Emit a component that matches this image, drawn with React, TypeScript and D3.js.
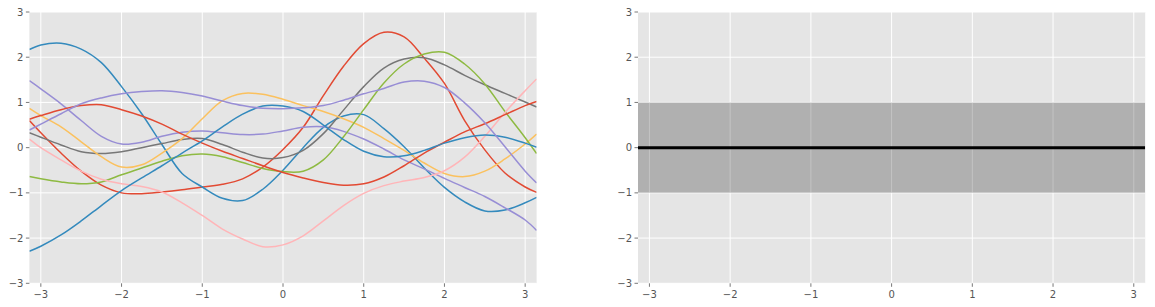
import React from 'react';
import * as d3 from 'd3';

// sample x positions (domain is [-pi, pi])
const xs = [-Math.PI, -3, -2.75, -2.5, -2.25, -2, -1.75, -1.5, -1.25, -1, -0.75, -0.5, -0.25, 0, 0.25, 0.5, 0.75, 1, 1.25, 1.5, 1.75, 2, 2.25, 2.5, 2.75, 3, Math.PI];

// ten prior samples
const redPeak = [0.6, 0.33, -0.12, -0.52, -0.83, -1.0, -1.02, -0.98, -0.93, -0.87, -0.81, -0.69, -0.43, -0.04, 0.45, 1.15, 1.8, 2.3, 2.55, 2.45, 1.98, 1.42, 0.6, -0.05, -0.56, -0.87, -0.99];
const blueHigh = [2.17, 2.27, 2.31, 2.18, 1.88, 1.35, 0.75, 0.07, -0.57, -0.87, -1.12, -1.17, -0.92, -0.5, 0.0, 0.45, 0.7, 0.73, 0.42, 0.02, -0.45, -0.88, -1.2, -1.4, -1.38, -1.22, -1.1];
const purpleLow = [1.48, 1.3, 0.97, 0.6, 0.25, 0.08, 0.12, 0.25, 0.34, 0.37, 0.33, 0.29, 0.3, 0.37, 0.45, 0.46, 0.36, 0.19, -0.03, -0.27, -0.47, -0.68, -0.88, -1.08, -1.33, -1.6, -1.83];
const gray = [0.33, 0.23, 0.06, -0.09, -0.13, -0.09, 0.0, 0.09, 0.18, 0.2, 0.07, -0.1, -0.23, -0.22, -0.06, 0.31, 0.83, 1.35, 1.76, 1.96, 1.99, 1.83, 1.6, 1.39, 1.2, 1.01, 0.9];
const yellow = [0.87, 0.71, 0.46, 0.13, -0.2, -0.43, -0.38, -0.12, 0.2, 0.64, 1.04, 1.2, 1.18, 1.07, 0.93, 0.8, 0.64, 0.45, 0.2, -0.06, -0.34, -0.57, -0.64, -0.52, -0.25, 0.08, 0.3];
const green = [-0.64, -0.69, -0.76, -0.8, -0.76, -0.6, -0.45, -0.3, -0.18, -0.14, -0.2, -0.33, -0.46, -0.53, -0.52, -0.27, 0.24, 0.84, 1.43, 1.85, 2.07, 2.11, 1.85, 1.41, 0.8, 0.22, -0.13];
const pink = [0.19, 0.0, -0.27, -0.52, -0.7, -0.8, -0.86, -0.98, -1.22, -1.5, -1.8, -2.02, -2.19, -2.15, -1.95, -1.62, -1.28, -1.01, -0.84, -0.74, -0.66, -0.51, -0.21, 0.25, 0.78, 1.26, 1.52];
const redLow = [0.63, 0.71, 0.84, 0.93, 0.95, 0.84, 0.7, 0.52, 0.3, 0.1, -0.08, -0.24, -0.4, -0.55, -0.67, -0.77, -0.83, -0.8, -0.65, -0.4, -0.12, 0.12, 0.35, 0.53, 0.73, 0.93, 1.02];
const blueLow = [-2.29, -2.18, -1.93, -1.62, -1.28, -0.95, -0.67, -0.4, -0.12, 0.15, 0.46, 0.74, 0.92, 0.92, 0.8, 0.5, 0.18, -0.08, -0.2, -0.18, -0.06, 0.1, 0.22, 0.28, 0.23, 0.1, 0.01];
const purpleHigh = [0.39, 0.52, 0.75, 0.97, 1.1, 1.19, 1.24, 1.26, 1.22, 1.14, 1.03, 0.93, 0.87, 0.86, 0.88, 0.93, 1.05, 1.19, 1.31, 1.45, 1.47, 1.33, 0.99, 0.55, 0.02, -0.52, -0.78];

const samples = [redPeak, blueHigh, purpleLow, gray, yellow, green, pink, redLow, blueLow, purpleHigh];
const colors = ['#E24A33', '#348ABD', '#988ED5', '#777777', '#FBC15E', '#8EBA42', '#FFB5B8', '#E24A33', '#348ABD', '#988ED5'];

// prior mean and +/- one std
const meanValues = [0, 0];
const meanXs = [-Math.PI, Math.PI];
const stdValues = [1, 1];

const xTicks = [-3, -2, -1, 0, 1, 2, 3];
const yTicks = [-3, -2, -1, 0, 1, 2, 3];

const W = 507.2;
const H = 271.3;
const TOP = 12;
const LEFTS = [29.4, 638];

const fmt = (v: number) => (v < 0 ? '\u2212' + Math.abs(v) : String(v));

function Axes({ left, id, children }: { left: number; id: string; children: React.ReactNode }) {
  const x = d3.scaleLinear().domain([-Math.PI, Math.PI]).range([0, W]);
  const y = d3.scaleLinear().domain([-3, 3]).range([H, 0]);
  return (
    <g transform={`translate(${left},${TOP})`}>
      <defs>
        <clipPath id={id}>
          <rect x={0} y={0} width={W} height={H} />
        </clipPath>
      </defs>
      <rect x={0} y={0} width={W} height={H} fill="#E5E5E5" />
      {xTicks.map((t) => (
        <line key={'gx' + t} x1={x(t)} x2={x(t)} y1={0} y2={H} stroke="#FFFFFF" strokeWidth={1} />
      ))}
      {yTicks.map((t) => (
        <line key={'gy' + t} x1={0} x2={W} y1={y(t)} y2={y(t)} stroke="#FFFFFF" strokeWidth={1} />
      ))}
      <g clipPath={`url(#${id})`}>{children}</g>
      {xTicks.map((t) => (
        <g key={'tx' + t}>
          <line x1={x(t)} x2={x(t)} y1={H} y2={H + 3.5} stroke="#555555" strokeWidth={0.8} />
          <text x={x(t)} y={H + 15} textAnchor="middle" fontSize={10} fill="#555555" fontFamily="DejaVu Sans">
            {fmt(t)}
          </text>
        </g>
      ))}
      {yTicks.map((t) => (
        <g key={'ty' + t}>
          <line x1={-3.5} x2={0} y1={y(t)} y2={y(t)} stroke="#555555" strokeWidth={0.8} />
          <text x={-6} y={y(t) + 3.6} textAnchor="end" fontSize={10} fill="#555555" fontFamily="DejaVu Sans">
            {fmt(t)}
          </text>
        </g>
      ))}
    </g>
  );
}

export default function App() {
  const x = d3.scaleLinear().domain([-Math.PI, Math.PI]).range([0, W]);
  const y = d3.scaleLinear().domain([-3, 3]).range([H, 0]);
  const line = d3
    .line<number>()
    .x((_, i) => x(xs[i]))
    .y((d) => y(d))
    .curve(d3.curveCatmullRom.alpha(0.5));
  const meanLine = d3
    .line<number>()
    .x((_, i) => x(meanXs[i]))
    .y((d) => y(d));
  const band = d3
    .area<number>()
    .x((_, i) => x(meanXs[i]))
    .y0((d, i) => y(d - stdValues[i]))
    .y1((d, i) => y(d + stdValues[i]));

  return (
    <svg
      width={1155}
      height={307}
      style={{ position: 'absolute', left: 0, top: 0, background: '#FFFFFF' }}
    >
      <Axes left={LEFTS[0]} id="clipA">
        {samples.map((s, k) => (
          <path key={k} d={line(s) || ''} fill="none" stroke={colors[k]} strokeWidth={1.5} />
        ))}
      </Axes>
      <Axes left={LEFTS[1]} id="clipB">
        <path d={band(meanValues) || ''} fill="#000000" fillOpacity={0.23} />
        <path d={meanLine(meanValues) || ''} fill="none" stroke="#000000" strokeWidth={3} />
      </Axes>
    </svg>
  );
}
